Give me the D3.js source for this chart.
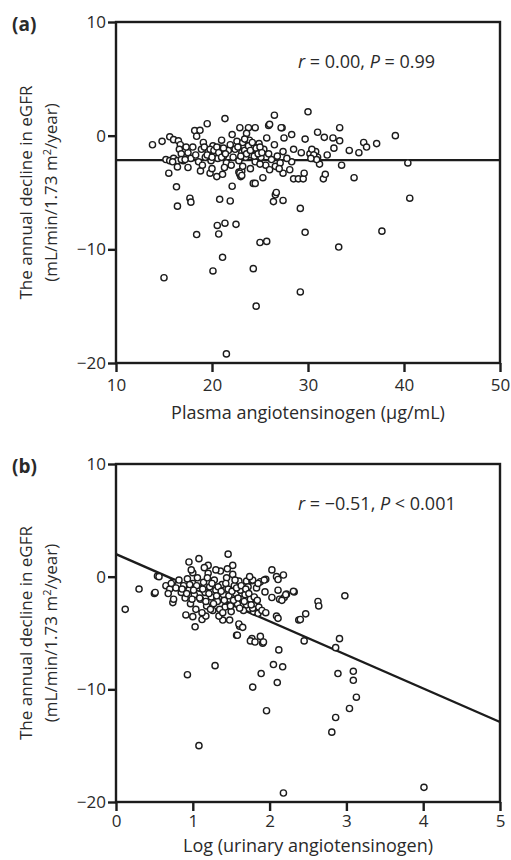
<!DOCTYPE html>
<html>
<head>
<meta charset="utf-8">
<script src="https://cdn.jsdelivr.net/npm/d3@7"></script>
<style>
  body { margin: 0; background: #fff; }
  svg { display: block; }
  text { font-family: "Open Sans", sans-serif; fill: #2a2a2a; }
</style>
</head>
<body>
<div id="chart"></div>
<script>
// panel (a): plasma angiotensinogen vs annual eGFR decline
var plasmaPoints = [
  [13.8,-0.8],[14.8,-0.5],[15.6,-0.1],[16.0,-0.35],[16.5,-0.45],[16.7,-0.8],[16.6,-1.2],[16.8,-1.6],
  [15.2,-2.1],[15.6,-2.2],[16.0,-2.0],[16.4,-2.2],
  [15.5,-3.3],[16.4,-2.75],[17.5,-2.8],[16.3,-4.5],[16.4,-6.2],[17.7,-5.5],[17.8,-5.85],
  [18.8,-3.1],[19.8,-3.3],[20.5,-3.6],[21.1,-3.4],[22.1,-4.45],[22.8,-3.2],[23.1,-3.1],[22.9,-3.4],[23.0,-3.6],
  [24.3,-4.2],[25.3,-3.7],[26.6,-5.2],[27.4,-5.7],[26.4,-5.8],[20.8,-5.6],[21.9,-5.75],[29.2,-6.4],
  [21.35,-7.7],[20.55,-7.9],[22.5,-7.8],[18.4,-8.7],[20.7,-8.65],[25.0,-9.4],[25.7,-9.3],[29.7,-8.5],
  [33.2,-9.8],[37.7,-8.4],
  [21.1,-10.7],[20.1,-11.9],[24.3,-11.7],[15.0,-12.5],[29.2,-13.75],[24.6,-15.0],[21.5,-19.2],
  [40.4,-2.4],[40.6,-5.5],[39.1,0.0],[37.15,-0.7],[35.8,-0.6],[36.1,-1.0],[35.3,-1.5],[34.3,-1.3],
  [34.8,-3.7],[33.5,-2.6],[33.3,0.7],[33.3,-0.45],[32.6,-0.2],[32.7,-1.1],[31.7,-0.15],[32.0,-1.7],
  [31.0,0.3],[30.0,2.1],[31.6,-3.8],[31.8,-3.4],[31.2,-2.5],
  [29.7,-0.3],[28.3,0.1],[27.5,-0.2],[27.3,0.7],[28.5,-1.2],[29.3,-1.5],[28.3,-2.3],[28.1,-3.0],
  [28.5,-3.8],[29.0,-3.8],[29.5,-3.8],[29.6,-3.3],
  [26.5,1.8],[25.9,0.9],[24.5,0.7],[27.2,0.7],[26.7,-5.0],[24.5,-4.2],[27.4,-3.3],[26.6,-2.7],
  [18.2,0.45],[18.75,0.47],[19.5,1.05],[21.35,1.5],[18.4,-0.05],[22.9,0.7],[23.8,0.7],[22.1,0.1],
  [23.6,0.2],[25.7,-0.2],[26.0,1.0],
  [17.5,-1.5],[17.8,-2.0],[18.0,-1.0],[18.3,-1.7],[18.6,-2.3],[18.9,-1.2],[19.1,-0.6],[19.3,-1.9],
  [19.6,-1.4],[19.9,-2.2],[20.1,-0.9],[20.3,-1.6],[20.6,-2.0],[20.8,-1.1],[21.0,-0.4],[21.2,-1.8],
  [21.5,-2.4],[21.7,-1.3],[21.9,-0.8],[22.2,-1.9],[22.4,-1.2],[22.6,-0.5],[22.8,-2.2],[23.1,-1.5],
  [23.3,-0.9],[23.5,-1.9],[23.7,-1.2],[23.9,-0.4],[24.1,-1.7],[24.3,-1.0],[24.5,-2.3],[24.7,-1.4],
  [24.9,-0.7],[25.1,-1.9],[25.4,-1.2],[25.6,-2.6],[25.9,-1.6],[26.2,-2.1],[26.5,-0.8],[26.8,-1.8],
  [27.1,-2.4],[27.4,-1.4],[27.8,-2.0],
  [30.2,-1.6],[30.5,-2.0],[30.8,-1.4],[31.0,-1.9],[30.4,-1.2],
  [17.0,-2.2],[17.3,-1.0],[19.0,-2.6],[20.0,-2.9],[21.3,-2.8],[22.0,-2.6],[23.2,-2.7],[24.0,-2.9],
  [25.0,-2.5],[26.0,-3.0],[27.0,-2.9],
  // densest overlap (grey areas)
  [19.2,-1.0],[19.5,-1.7],[19.8,-1.2],[20.0,-1.9],[20.2,-1.3],[20.5,-1.0],[20.7,-1.5],[21.0,-1.9],
  [21.2,-1.1],[21.4,-1.6],[22.7,-1.0],[23.0,-1.8],[23.2,-0.6],[23.4,-1.3],[23.6,-1.6],[23.8,-0.9],
  [24.0,-1.3],[24.2,-0.6],[24.4,-1.8],[24.6,-1.1],[24.8,-1.6],[25.0,-1.0],[25.2,-1.5],[16.8,-2.1],
  [17.2,-2.1],[15.9,-2.3],[22.9,-3.3],[23.1,-3.5],[30.6,-1.7],[30.9,-2.1],[30.3,-2.0],[23.4,-0.3]
];

// panel (b): log urinary angiotensinogen vs annual eGFR decline
var urinaryPoints = [
  [0.12,-2.9],[0.30,-1.1],[0.50,-1.5],[0.51,-1.4],[0.54,0.05],[0.56,0.0],[0.65,-0.8],[0.70,-1.1],
  [0.74,-0.5],[0.74,-2.3],[0.95,1.3],[1.08,1.6],[1.46,2.0],[1.0,0.35],[1.2,1.0],[1.52,1.0],
  [0.91,-3.4],[1.0,-3.55],[1.03,-4.45],[1.12,-3.8],[1.17,-3.5],[1.57,-5.2],[1.61,-4.4],
  [1.77,-5.5],[1.88,-5.3],
  [1.70,-0.4],[1.77,-0.36],[1.88,-0.45],[1.95,-0.24],[2.03,0.6],[2.09,0.0],[2.18,0.15],
  [1.83,-1.0],[1.94,-1.35],[2.03,-1.85],[2.11,-1.2],[2.13,-2.0],[2.19,-1.85],[2.32,-1.35],[2.22,-1.55],
  [2.09,-3.5],[2.11,-3.7],[2.38,-3.85],
  [2.11,-0.25],[1.93,-0.3],[1.85,-0.6],[1.78,-0.3],[1.74,0.0],[2.21,-1.6],[2.31,-1.3],[2.16,-2.1],
  [2.98,-1.7],[2.63,-2.2],[2.64,-2.6],[2.47,-3.3],[2.40,-3.8],[1.79,-3.1],[1.85,-3.25],
  [1.39,-3.85],[1.48,-3.85],[1.58,-5.2],[1.60,-4.2],[1.65,-4.5],
  [1.75,-5.7],[1.81,-5.8],[1.91,-5.9],[1.92,-5.8],[2.12,-6.5],[2.05,-7.8],[2.17,-8.0],
  [1.89,-8.6],[2.10,-9.4],[1.78,-9.8],[1.96,-11.9],[0.93,-8.7],[1.29,-7.9],[1.08,-15.0],[2.18,-19.2],
  [2.45,-5.7],[2.91,-5.5],[2.86,-6.3],[2.89,-8.6],[3.09,-8.4],[3.09,-9.2],[3.13,-10.7],[3.04,-11.7],
  [2.86,-12.5],[2.81,-13.8],[4.01,-18.7],
  [0.72,-0.6],[0.78,-1.0],[0.82,-0.3],[0.85,-1.4],[0.88,-0.8],[0.90,-1.9],[0.93,-0.2],[0.95,-1.2],
  [0.97,-2.4],[1.00,-0.6],[1.02,-1.6],[1.04,-2.9],[1.06,-0.1],[1.08,-1.0],[1.10,-2.0],[1.12,-3.2],
  [1.14,-0.5],[1.16,-1.4],[1.18,-2.6],[1.20,0.3],[1.22,-0.9],[1.24,-1.8],[1.26,-3.0],[1.28,-0.3],
  [1.30,-1.2],[1.32,-2.2],[1.34,-3.5],[1.36,0.5],[1.38,-0.7],[1.40,-1.6],[1.42,-2.7],[1.44,-0.1],
  [1.46,-1.1],[1.48,-2.0],[1.50,-3.1],[1.52,0.2],[1.54,-0.8],[1.56,-1.5],[1.58,-2.4],[1.60,-0.4],
  [1.62,-1.2],[1.64,-2.0],[1.66,-3.0],[1.68,-1.6],[1.70,-2.5],[1.72,-0.9],[1.75,-2.0],[1.78,-2.8],
  [1.82,-2.4],[1.86,-2.7],[1.90,-3.0],[1.95,-3.2],[0.68,-1.5],[0.75,-2.0],[0.98,0.6],[1.15,0.8],
  [1.30,0.6],[1.45,0.7],
  // densest overlap (grey areas)
  [1.05,-0.8],[1.09,-1.9],[1.13,-1.1],[1.17,-2.2],[1.21,-1.5],[1.25,-0.6],[1.27,-2.4],[1.31,-1.7],
  [1.33,-0.9],[1.35,-2.9],[1.37,-1.3],[1.41,-2.1],[1.43,-0.6],[1.47,-1.7],[1.49,-2.6],[1.51,-1.3],
  [1.53,-2.1],[1.55,-0.3],[1.57,-1.0],[1.59,-1.9],[1.61,-2.8],[1.63,-0.8],[1.67,-2.2],[1.69,-1.1],
  [0.86,-1.1],[0.92,-1.5],[0.96,-0.7],[0.99,-2.0],[1.01,-1.2],[1.19,-0.1],[1.39,-3.2],[1.23,-2.9],
  [1.73,-1.5],[1.76,-2.5],[1.80,-1.8],[1.84,-2.1]
];

var yTicks = [10, 0, -10, -20];
var plasmaTicks = [10, 20, 30, 40, 50];
var urinaryTicks = [0, 1, 2, 3, 4, 5];

// fitted lines (end points)
var plasmaFit = [[10, -2.15], [50, -2.15]];
var urinaryFit = [[0, 2.0], [5, -12.9]];

var width = 511, height = 860;
var ink = '#1c1c1c';

var svg = d3.select('#chart').append('svg')
    .attr('width', width)
    .attr('height', height);

function minus(d) {
    return d < 0 ? '\u2212' + Math.abs(d) : String(d);
}

function makePanel(cfg) {
    var x = d3.scaleLinear().domain(cfg.xDomain).range([116, 500]);
    var y = d3.scaleLinear().domain([-20, 10]).range([cfg.bottom, cfg.top]);

    var g = svg.append('g');

    // fitted line
    g.append('path')
        .datum(cfg.fit)
        .attr('d', d3.line().x(function (d) { return x(d[0]); }).y(function (d) { return y(d[1]); }))
        .attr('fill', 'none')
        .attr('stroke', ink)
        .attr('stroke-width', 2.4);

    // points
    g.selectAll('circle.pt')
        .data(cfg.points)
        .enter()
        .append('circle')
        .attr('class', 'pt')
        .attr('cx', function (d) { return x(d[0]); })
        .attr('cy', function (d) { return y(d[1]); })
        .attr('r', 3.1)
        .attr('fill', '#fff')
        .attr('stroke', ink)
        .attr('stroke-width', 1.4);

    // frame
    g.append('rect')
        .attr('x', 116)
        .attr('y', cfg.top)
        .attr('width', 384)
        .attr('height', cfg.bottom - cfg.top)
        .attr('fill', 'none')
        .attr('stroke', ink)
        .attr('stroke-width', 2.4);

    var yAxis = g.append('g')
        .attr('transform', 'translate(116,0)')
        .call(d3.axisLeft(y).tickValues(yTicks).tickSize(8).tickSizeOuter(0).tickPadding(2).tickFormat(minus));

    var xAxis = g.append('g')
        .attr('transform', 'translate(0,' + cfg.bottom + ')')
        .call(d3.axisBottom(x).tickValues(cfg.xTicks).tickSize(9).tickSizeOuter(0).tickPadding(cfg.tickPad).tickFormat(minus));

    [yAxis, xAxis].forEach(function (ax) {
        ax.select('.domain').remove();
        ax.selectAll('line').attr('stroke', ink).attr('stroke-width', 2.4);
        ax.selectAll('text')
            .style('font-family', '"Open Sans", sans-serif')
            .style('font-size', '17px')
            .attr('fill', '#2a2a2a');
    });

    // panel letter
    svg.append('text')
        .attr('x', 12)
        .attr('y', cfg.top + 9)
        .style('font-size', '19px')
        .style('font-weight', 'bold')
        .attr('fill', '#111')
        .text(cfg.letter);

    // x title
    svg.append('text')
        .attr('x', 308)
        .attr('y', cfg.bottom + cfg.titleGap)
        .attr('text-anchor', 'middle')
        .style('font-size', '18px')
        .text(cfg.xTitle);

    // y title (two lines)
    var cy = (cfg.top + cfg.bottom) / 2;
    var yt = svg.append('g').attr('transform', 'translate(0,' + cy + ') rotate(-90)');
    yt.append('text')
        .attr('x', 0)
        .attr('y', 32)
        .attr('text-anchor', 'middle')
        .style('font-size', '17px')
        .text('The annual decline in eGFR');
    var t2 = yt.append('text')
        .attr('x', 0)
        .attr('y', 57)
        .attr('text-anchor', 'middle')
        .style('font-size', '17px');
    t2.append('tspan').text('(mL/min/1.73 m');
    t2.append('tspan').attr('dy', -6).style('font-size', '11px').text('2');
    t2.append('tspan').attr('dy', 6).text('/year)');

    // correlation note
    var note = svg.append('text')
        .attr('x', 298)
        .attr('y', cfg.top + 46)
        .style('font-size', '18px');
    note.append('tspan').style('font-style', 'italic').text('r');
    note.append('tspan').text(' = ' + cfg.r + ', ');
    note.append('tspan').style('font-style', 'italic').text('P');
    note.append('tspan').text(' ' + cfg.p);
}

makePanel({
    letter: '(a)', top: 22, bottom: 363,
    xDomain: [10, 50], xTicks: plasmaTicks, tickPad: 7, titleGap: 56,
    points: plasmaPoints, fit: plasmaFit,
    xTitle: 'Plasma angiotensinogen (\u03bcg/mL)',
    r: '0.00', p: '= 0.99'
});

makePanel({
    letter: '(b)', top: 464, bottom: 802,
    xDomain: [0, 5], xTicks: urinaryTicks, tickPad: 4, titleGap: 50,
    points: urinaryPoints, fit: urinaryFit,
    xTitle: 'Log (urinary angiotensinogen)',
    r: '\u22120.51', p: '< 0.001'
});
</script>
</body>
</html>
